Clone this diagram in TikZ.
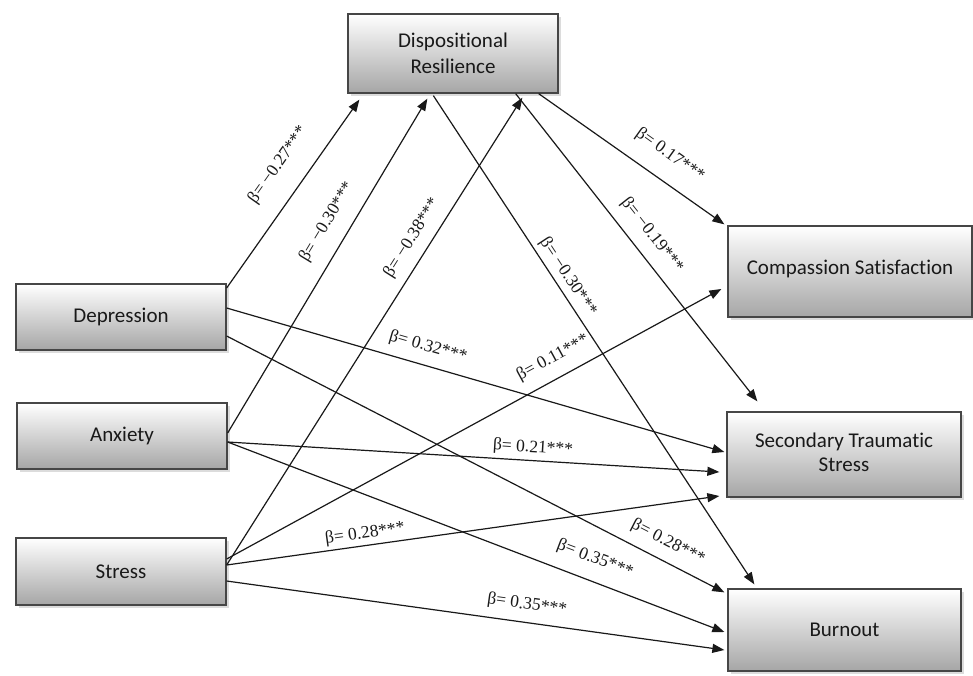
\documentclass[tikz,border=0pt]{standalone}
\usepackage{fontspec}
\setmainfont{Liberation Serif}
\newfontfamily\boxfont[Ligatures=NoCommon]{Carlito}
\usetikzlibrary{arrows.meta,calc,shadows}
\begin{document}
\begin{tikzpicture}[x=1pt,y=-1pt,
  varbox/.style={draw=gray!55!black, line width=1.3pt, top color=white, bottom color=gray!70,
    drop shadow={shadow xshift=3pt, shadow yshift=-3pt, fill=gray!45, opacity=0.6},
    font=\boxfont\fontsize{21}{25.5}\selectfont, text=black!90, align=center, inner sep=0pt},
  conn/.style={line width=1.2pt, draw=black!90, -{Triangle[length=12pt,width=9pt]}},
  lab/.style={font=\fontsize{17.5}{20}\selectfont, inner sep=0pt, text=black!90}
]
\useasboundingbox (0,0) rectangle (973,675);
\fill[white] (0,0) rectangle (973,675);

\node[varbox, minimum width=210pt, minimum height=79pt] (dr) at (453,53.5) {Dispositional\\Resilience};
\node[varbox, minimum width=210pt, minimum height=66pt] (dep) at (121,317) {Depression};
\node[varbox, minimum width=210pt, minimum height=66pt] (anx) at (122,436) {Anxiety};
\node[varbox, minimum width=210pt, minimum height=67pt] (str) at (121,571.5) {Stress};
\node[varbox, minimum width=244pt, minimum height=91pt] (cs) at (850,271.5) {\raisebox{8pt}{Compassion Satisfaction}};
\node[varbox, minimum width=234pt, minimum height=85pt] (sts) at (844,454.5) {\raisebox{-5pt}{\begin{tabular}{@{}c@{}}Secondary Traumatic\\[-1pt]Stress\end{tabular}}};
\node[varbox, minimum width=233pt, minimum height=82pt] (bo) at (844.5,630) {\raisebox{-8pt}{Burnout}};

% to Dispositional Resilience
\draw[conn] ($(dep.east)+(0,-29)$) -- ($(dr.south west)+(12,6)$);
\draw[conn] ($(anx.east)+(0,-3)$) -- ($(dr.south west)+(80,5)$);
\draw[conn] ($(str.east)+(0,-6.5)$) -- ($(dr.south west)+(175,4)$);
% from Dispositional Resilience
\draw[conn] ($(dr.south east)+(-20,0)$) -- ($(cs.north west)+(-3,-1)$);
\draw[conn] ($(dr.south east)+(-43,0)$) -- ($(sts.north west)+(31,-10)$);
\draw[conn] ($(dr.south west)+(86,2)$) -- ($(bo.north west)+(27,-4)$);
% Depression
\draw[conn] ($(dep.east)+(0,-9)$) -- ($(sts.west)+(-2,-2.5)$);
\draw[conn] ($(dep.east)+(0,19)$) -- ($(bo.north west)+(-3,4)$);
% Anxiety
\draw[conn] ($(anx.east)+(0,6)$) -- ($(sts.west)+(-7,17.5)$);
\draw[conn] ($(anx.east)+(0,6)$) -- ($(bo.west)+(-3,2)$);
% Stress
\draw[conn] ($(str.east)+(0,-12.5)$) -- ($(cs.west)+(-6,17.5)$);
\draw[conn] ($(str.east)+(0,-6.5)$) -- ($(sts.west)+(-7,41.5)$);
\draw[conn] ($(str.east)+(0,9.5)$) -- ($(bo.west)+(-3,20)$);

% labels
\node[lab, rotate=54.7] (l1) at (278,165) {β= −0.27***};
\node[lab, rotate=58.8] (l2) at (327,222) {β= −0.30***};
\node[lab, rotate=57.8] (l3) at (412,238) {β= −0.38***};
\node[lab, rotate=-35.6] (l4) at (670,155) {β= 0.17***};
\node[lab, rotate=-51.9] (l5) at (652,235) {β= −0.19***};
\node[lab, rotate=-56.7] (l6) at (568,277) {β= −0.30***};
\node[lab, rotate=-16.1] (l7) at (428,347) {β= 0.32***};
\node[lab, rotate=-27.2] (l8) at (668,542) {β= 0.28***};
\node[lab, rotate=-3.5] (l9) at (533,448) {β= 0.21***};
\node[lab, rotate=-20.8] (l10) at (595,559) {β= 0.35***};
\node[lab, rotate=28.6] (l11) at (553,358) {β= 0.11***};
\node[lab, rotate=8.0] (l12) at (365,534) {β= 0.28***};
\node[lab, rotate=-7.9] (l13) at (527,605) {β= 0.35***};
\end{tikzpicture}
\end{document}
